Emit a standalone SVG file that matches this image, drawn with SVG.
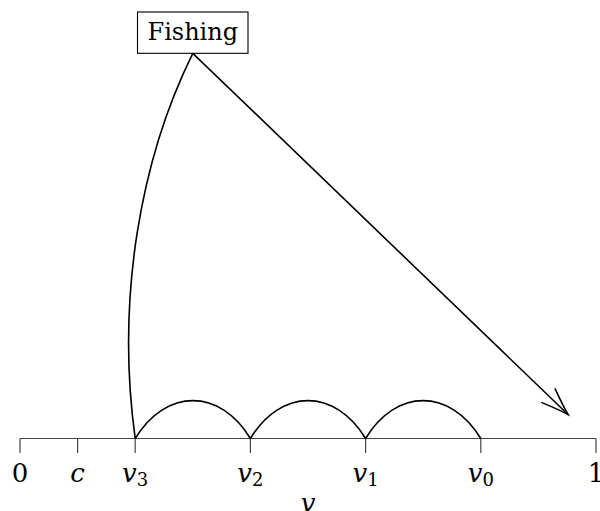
<svg xmlns="http://www.w3.org/2000/svg" width="600" height="511" viewBox="0 0 600 511">
<defs>
  <marker id="to" markerUnits="userSpaceOnUse" markerWidth="40" markerHeight="30" viewBox="-30 -15 40 30" refX="0" refY="0" orient="auto" overflow="visible">
    <path d="M -27,-9.5 Q -9,-2.5 0,0 Q -9,2.5 -27,9.5" fill="none" stroke="#000" stroke-width="1.6" stroke-linecap="round"/>
  </marker>
</defs>
<rect width="600" height="511" fill="#fff"/>

<g id="axis" stroke="#444" stroke-width="1.2" fill="none">
  <line x1="20" y1="438.5" x2="596" y2="438.5"/>
  <line x1="20" y1="438.5" x2="20" y2="453"/>
  <line x1="77.6" y1="438.5" x2="77.6" y2="453"/>
  <line x1="135.2" y1="438.5" x2="135.2" y2="453"/>
  <line x1="250.4" y1="438.5" x2="250.4" y2="453"/>
  <line x1="365.6" y1="438.5" x2="365.6" y2="453"/>
  <line x1="480.8" y1="438.5" x2="480.8" y2="453"/>
  <line x1="596" y1="438.5" x2="596" y2="453"/>
</g>
<g id="labels" font-family="'DejaVu Serif', 'Liberation Serif', serif" font-size="26" fill="#000" text-anchor="middle" stroke="none">
  <text x="20" y="482">0</text>
  <text x="77.6" y="482" font-style="italic">c</text>
  <text x="135.2" y="482"><tspan font-style="italic">v</tspan><tspan font-size="18" dy="4">3</tspan></text>
  <text x="250.4" y="482"><tspan font-style="italic">v</tspan><tspan font-size="18" dy="4">2</tspan></text>
  <text x="365.6" y="482"><tspan font-style="italic">v</tspan><tspan font-size="18" dy="4">1</tspan></text>
  <text x="480.8" y="482"><tspan font-style="italic">v</tspan><tspan font-size="18" dy="4">0</tspan></text>
  <text x="596" y="482">1</text>
  <text x="308" y="512" font-style="italic">v</text>
</g>

<g id="fishing">
  <rect x="137.5" y="12" width="110.5" height="41.3" fill="#fff" stroke="#000" stroke-width="1.1"/>
  <text x="192.8" y="40" font-family="'DejaVu Serif', 'Liberation Serif', serif" font-size="24" text-anchor="middle" fill="#000">Fishing</text>
</g>

<g id="connectors" stroke="#000" stroke-width="1.6" fill="none">
  <path d="M 135.2,438.5 C 166,388 220,388 250.4,438.5"/>
  <path d="M 250.4,438.5 C 281,388 335,388 365.6,438.5"/>
  <path d="M 365.6,438.5 C 396,388 450,388 480.8,438.5"/>
  <path d="M 135.2,438.5 C 116,300 140,160 192.8,53.3"/>
  <path d="M 192.8,53.3 L 568,414.5" marker-end="url(#to)"/>
</g>
</svg>
